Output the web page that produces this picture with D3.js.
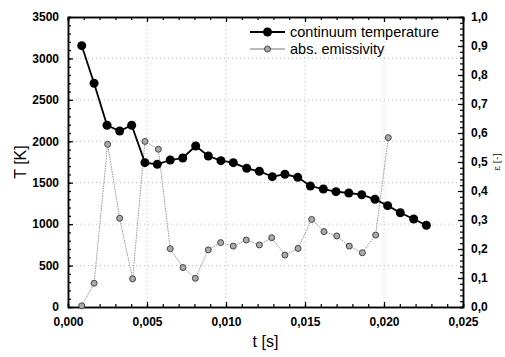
<!DOCTYPE html>
<html><head><meta charset="utf-8">
<script src="https://cdn.jsdelivr.net/npm/d3@7"></script>
<style>body{margin:0;background:#fff}svg{display:block}</style>
</head><body>
<script>
const tempT = [0.00087,0.00165,0.00247,0.00327,0.00403,0.00487,0.00565,0.00647,0.00726,0.00808,0.00888,0.00968,0.01046,0.01131,0.01211,0.01293,0.01373,0.01454,0.01534,0.01616,0.01696,0.01777,0.01859,0.01943,0.02023,0.02103,0.02188,0.02268];
const tempK = [3154,2700,2193,2124,2193,1742,1722,1774,1798,1943,1822,1766,1742,1674,1638,1573,1602,1565,1460,1424,1392,1376,1355,1300,1223,1138,1062,986];
const emisT = [0.00087,0.00165,0.00251,0.00327,0.00409,0.00487,0.00572,0.00647,0.00728,0.00806,0.00888,0.00966,0.01046,0.01128,0.01211,0.01289,0.01373,0.01456,0.01542,0.0162,0.01701,0.0178,0.01863,0.01947,0.02027];
const emisV = [0.004,0.082,0.561,0.306,0.097,0.571,0.544,0.201,0.136,0.099,0.197,0.222,0.210,0.231,0.214,0.239,0.179,0.202,0.302,0.260,0.245,0.210,0.187,0.248,0.584];
const xTicks = [0,0.005,0.010,0.015,0.020,0.025];
const xTickLabels = ["0,000","0,005","0,010","0,015","0,020","0,025"];
const yTicks = [0,500,1000,1500,2000,2500,3000,3500];
const y2Ticks = [0,0.1,0.2,0.3,0.4,0.5,0.6,0.7,0.8,0.9,1.0];
const y2TickLabels = ["0,0","0,1","0,2","0,3","0,4","0,5","0,6","0,7","0,8","0,9","1,0"];
const legendLabels = ["continuum temperature","abs. emissivity"];

const W=505,H=357;
const L=68,R=463,T=17,B=307;
const svg=d3.select("body").append("svg").attr("width",W).attr("height",H);
const x=d3.scaleLinear().domain([0,0.025]).range([L,R]);
const y=d3.scaleLinear().domain([0,3500]).range([B,T]);
const y2=d3.scaleLinear().domain([0,1]).range([B,T]);
const font="Liberation Sans, Arial, sans-serif";

// gridlines
const g=svg.append("g").attr("stroke","#aaa").attr("stroke-width",0.8).attr("stroke-dasharray","1,3");
yTicks.slice(1,-1).forEach(v=>g.append("line").attr("x1",L).attr("x2",R).attr("y1",y(v)).attr("y2",y(v)));
xTicks.slice(1,-1).forEach(v=>g.append("line").attr("y1",T).attr("y2",B).attr("x1",x(v)).attr("x2",x(v)));

// axes
const minorX=d3.range(0,0.0251,0.001);
const minorY=d3.range(0,3501,100);
const minorY2=d3.range(0,1.001,0.02);
svg.append("g").attr("transform",`translate(0,${B})`)
  .call(d3.axisBottom(x).tickValues(minorX).tickSize(-3).tickFormat(""));
svg.append("g").attr("transform",`translate(0,${B})`)
  .call(d3.axisBottom(x).tickValues(xTicks).tickSizeInner(-5).tickSizeOuter(0).tickPadding(10).tickFormat((d,i)=>xTickLabels[i]));
svg.append("g").attr("transform",`translate(0,${T})`)
  .call(d3.axisTop(x).tickValues(minorX).tickSize(-3).tickFormat(""));
svg.append("g").attr("transform",`translate(0,${T})`)
  .call(d3.axisTop(x).tickValues(xTicks).tickSize(-5).tickFormat(""));
svg.append("g").attr("transform",`translate(${L},0)`)
  .call(d3.axisLeft(y).tickValues(minorY).tickSize(-3).tickFormat(""));
svg.append("g").attr("transform",`translate(${L},0)`)
  .call(d3.axisLeft(y).tickValues(yTicks).tickSizeInner(-5).tickSizeOuter(0).tickPadding(9).tickFormat(d3.format("d")));
svg.append("g").attr("transform",`translate(${R},0)`)
  .call(d3.axisRight(y2).tickValues(minorY2).tickSize(-3).tickFormat(""));
svg.append("g").attr("transform",`translate(${R},0)`)
  .call(d3.axisRight(y2).tickValues(y2Ticks).tickSizeInner(-5).tickSizeOuter(0).tickPadding(8).tickFormat((d,i)=>y2TickLabels[i]));
svg.selectAll(".domain").attr("stroke","#000").attr("stroke-width",1.5);
svg.selectAll(".tick line").attr("stroke","#000").attr("stroke-width",1.2);
svg.selectAll(".tick text").attr("font-family",font).attr("font-size",12).attr("font-weight","bold").attr("fill","#000");

// emissivity series
const eData=emisT.map((t,i)=>[t,emisV[i]]);
svg.append("path").datum(eData).attr("fill","none").attr("stroke","#888").attr("stroke-width",0.9)
  .attr("stroke-dasharray","1.5,1")
  .attr("d",d3.line().x(d=>x(d[0])).y(d=>y2(d[1])));
svg.append("g").selectAll("circle").data(eData).join("circle")
  .attr("cx",d=>x(d[0])).attr("cy",d=>y2(d[1])).attr("r",3)
  .attr("fill","#aaa").attr("stroke","#444").attr("stroke-width",1);

// temperature series
const tData=tempT.map((t,i)=>[t,tempK[i]]);
svg.append("path").datum(tData).attr("fill","none").attr("stroke","#000").attr("stroke-width",1.8)
  .attr("d",d3.line().x(d=>x(d[0])).y(d=>y(d[1])));
svg.append("g").selectAll("circle").data(tData).join("circle")
  .attr("cx",d=>x(d[0])).attr("cy",d=>y(d[1])).attr("r",4.5).attr("fill","#000");

// legend
const lg=svg.append("g");
lg.append("line").attr("x1",250).attr("x2",285).attr("y1",32).attr("y2",32).attr("stroke","#000").attr("stroke-width",1.8);
lg.append("circle").attr("cx",267.5).attr("cy",32).attr("r",4.5).attr("fill","#000");
lg.append("line").attr("x1",250).attr("x2",285).attr("y1",49).attr("y2",49).attr("stroke","#777").attr("stroke-width",1);
lg.append("circle").attr("cx",267.5).attr("cy",49).attr("r",3).attr("fill","#aaa").attr("stroke","#444");
lg.selectAll("text").data(legendLabels).join("text")
  .attr("x",290).attr("y",(d,i)=>32+i*17).attr("dy","0.35em")
  .attr("font-family",font).attr("font-size",14.5).text(d=>d);

// axis titles
svg.append("text").attr("transform",`translate(26,${(T+B)/2}) rotate(-90)`).attr("text-anchor","middle")
  .attr("font-family",font).attr("font-size",16).text("T [K]");
svg.append("text").attr("x",(L+R)/2).attr("y",347).attr("text-anchor","middle")
  .attr("font-family",font).attr("font-size",16).text("t [s]");
svg.append("text").attr("transform",`translate(500,${(T+B)/2}) rotate(-90)`).attr("text-anchor","middle")
  .attr("font-family","DejaVu Serif, serif").attr("font-size",9).text("ε [-]");
</script>
</body></html>
